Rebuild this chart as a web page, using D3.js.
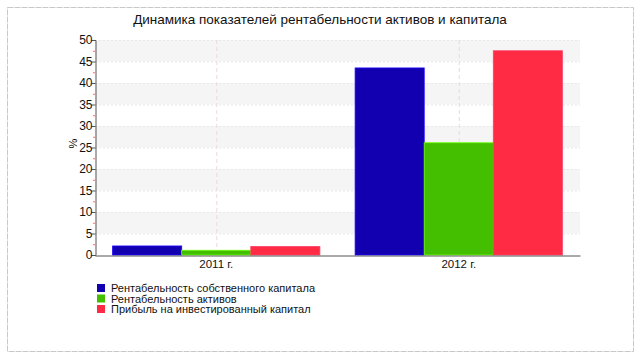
<!DOCTYPE html>
<html>
<head>
<meta charset="utf-8">
<script src="https://cdn.jsdelivr.net/npm/d3@7"></script>
<style>
  body { margin: 0; background: #fff; }
  text { font-family: "Liberation Sans", Arial, sans-serif; }
</style>
</head>
<body>
<svg id="chart"></svg>
<script>
const years = ["2011 г.", "2012 г."];
const seriesNames = [
  "Рентабельность собственного капитала",
  "Рентабельность активов",
  "Прибыль на инвестированный капитал"
];
const seriesColors = ["#1200b0", "#44bf00", "#ff2a44"];
const roe = [2.1, 43.5];
const roa = [1.1, 26.1];
const roic = [2.0, 47.5];
const yTicks = [0, 5, 10, 15, 20, 25, 30, 35, 40, 45, 50];

const W = 640, H = 358;
const svg = d3.select("#chart").attr("width", W).attr("height", H);

// outer frame
svg.append("rect")
  .attr("x", 7.5).attr("y", 7.5)
  .attr("width", 626).attr("height", 344)
  .attr("fill", "none")
  .attr("stroke", "#c8c8c8")
  .attr("stroke-dasharray", "6,1");

const m = { left: 95, right: 580, top: 40, bottom: 255 };

const x = d3.scaleBand().domain(years).range([m.left, m.right]).paddingInner(0).paddingOuter(0);
const xs = d3.scaleBand().domain(seriesNames).range([0, x.bandwidth()]).paddingInner(0).paddingOuter(0.255);
const y = d3.scaleLinear().domain([0, 50]).range([m.bottom, m.top]);

// alternating bands
const bands = [[5, 10], [15, 20], [25, 30], [35, 40], [45, 50]];
svg.append("g").selectAll("rect")
  .data(bands)
  .join("rect")
  .attr("x", m.left)
  .attr("width", m.right - m.left)
  .attr("y", d => y(d[1]))
  .attr("height", d => y(d[0]) - y(d[1]))
  .attr("fill", "#f5f5f5");

// horizontal dotted lines at tick values
svg.append("g").selectAll("line")
  .data(yTicks.slice(1))
  .join("line")
  .attr("x1", m.left).attr("x2", m.right)
  .attr("y1", d => y(d) + 0.5).attr("y2", d => y(d) + 0.5)
  .attr("stroke", "#e8e8e8")
  .attr("stroke-dasharray", "2,2");

// vertical dashed lines at category centres
svg.append("g").selectAll("line")
  .data(years)
  .join("line")
  .attr("x1", d => x(d) + x.bandwidth() / 2 + 0.5)
  .attr("x2", d => x(d) + x.bandwidth() / 2 + 0.5)
  .attr("y1", m.top).attr("y2", m.bottom)
  .attr("stroke", "#ead8e2")
  .attr("stroke-dasharray", "4,3");

// bars
const rows = years.map((yr, i) => ({ yr, vals: [roe[i], roa[i], roic[i]] }));
const groups = svg.append("g").selectAll("g")
  .data(rows)
  .join("g")
  .attr("transform", d => `translate(${x(d.yr)},0)`);
groups.selectAll("rect")
  .data(d => d.vals.map((v, j) => ({ name: seriesNames[j], v, j })))
  .join("rect")
  .attr("x", d => xs(d.name))
  .attr("width", xs.bandwidth())
  .attr("y", d => y(d.v))
  .attr("height", d => y(0) - y(d.v))
  .attr("fill", d => seriesColors[d.j])
  .attr("stroke", d => d3.color(seriesColors[d.j]).brighter(1.2))
  .attr("stroke-width", 0.8);

// y axis
const yAxis = svg.append("g")
  .attr("transform", `translate(${m.left + 0.5},0)`)
  .call(d3.axisLeft(y).tickValues(yTicks).tickSize(4).tickFormat(d3.format("d")));
yAxis.select(".domain").attr("stroke", "#555");
yAxis.selectAll(".tick line").attr("stroke", "#555");
yAxis.selectAll("text").attr("font-size", 12).attr("fill", "#111").attr("x", -3);

// minor red ticks
svg.append("g").selectAll("line")
  .data(d3.range(2.5, 50, 5))
  .join("line")
  .attr("x1", m.left - 2).attr("x2", m.left)
  .attr("y1", d => y(d) + 0.5).attr("y2", d => y(d) + 0.5)
  .attr("stroke", "#f07070");

// x axis
const xAxis = svg.append("g")
  .attr("transform", `translate(0,${m.bottom + 0.5})`)
  .call(d3.axisBottom(x).tickSize(0).tickPadding(4));
xAxis.select(".domain").attr("stroke", "#555");
xAxis.selectAll("text").attr("font-size", 11.5).attr("fill", "#111");

// y label
svg.append("text")
  .attr("transform", `translate(77,${(m.top + m.bottom) / 2 - 4}) rotate(-90)`)
  .attr("text-anchor", "middle")
  .attr("font-size", 11)
  .text("%");

// title
svg.append("text")
  .attr("x", 320).attr("y", 24)
  .attr("text-anchor", "middle")
  .attr("font-size", 13.5)
  .attr("fill", "#111")
  .text("Динамика показателей рентабельности активов и капитала");

// legend
const legend = svg.append("g").attr("transform", "translate(97,284)");
const li = legend.selectAll("g")
  .data(seriesNames)
  .join("g")
  .attr("transform", (d, i) => `translate(0,${i * 10.5})`);
li.append("rect")
  .attr("width", 8).attr("height", 8)
  .attr("fill", (d, i) => seriesColors[i]);
li.append("text")
  .attr("x", 14).attr("y", 8)
  .attr("font-size", 11)
  .attr("fill", "#111")
  .text(d => d);
</script>
</body>
</html>
